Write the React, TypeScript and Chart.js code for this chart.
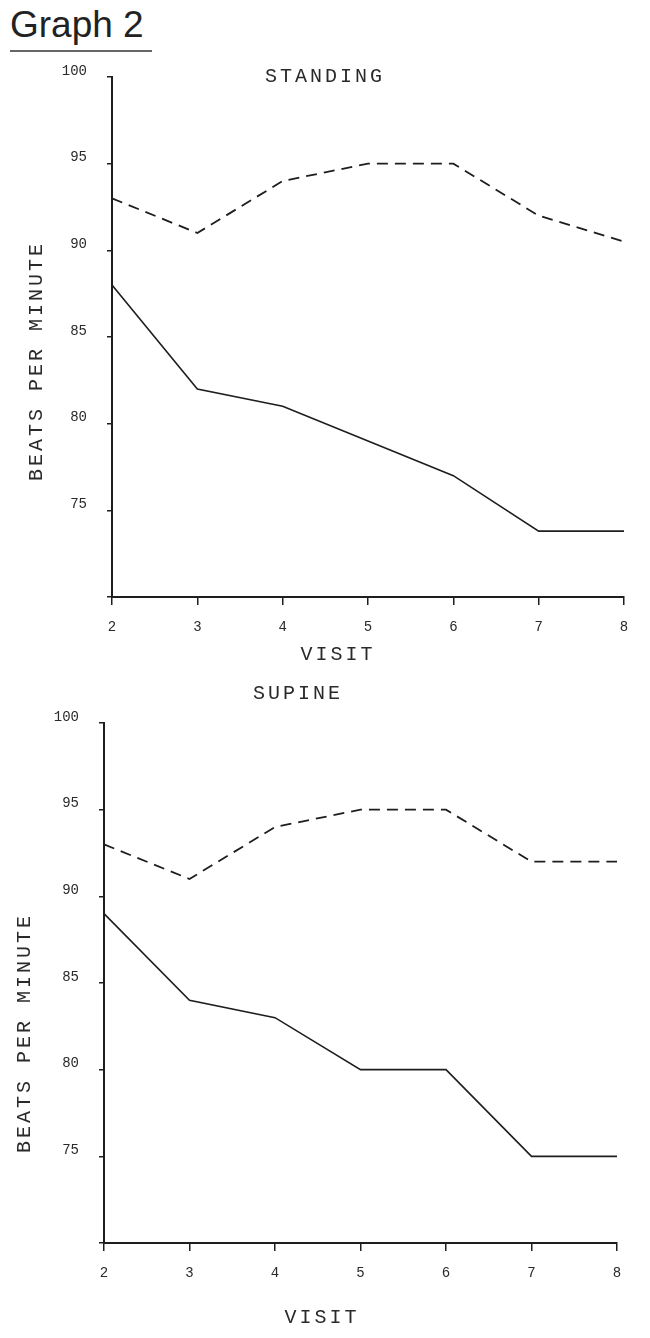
import React, { useEffect, useRef } from 'react';
import { Chart, registerables } from 'chart.js';
import type { ChartConfiguration, Plugin } from 'chart.js';

Chart.register(...registerables);

// values
const visits = ['2', '3', '4', '5', '6', '7', '8'];
const yTickValues = [70, 75, 80, 85, 90, 95, 100];
const standingDashed = [93, 91, 94, 95, 95, 92, 90.5];
const standingSolid = [88, 82, 81, 79, 77, 73.8, 73.8];
const supineDashed = [93, 91, 94, 95, 95, 92, 92];
const supineSolid = [89, 84, 83, 80, 80, 75, 75];

const INK = '#1e1e1e';
const TEXT = '#2a2a2a';
const MONO = '"Liberation Mono", "DejaVu Sans Mono", monospace';

type Caption = { text: string; x: number; y: number; rotate?: boolean };

// typewriter captions (title and axis titles) with letter spacing
const captionPlugin: Plugin<'line'> = {
  id: 'captions',
  afterDraw(chart, _args, opts: any) {
    const ctx = chart.ctx as CanvasRenderingContext2D & { letterSpacing?: string };
    ctx.save();
    ctx.fillStyle = TEXT;
    ctx.font = `20px ${MONO}`;
    ctx.letterSpacing = '3px';
    ctx.textAlign = 'center';
    ctx.textBaseline = 'middle';
    (opts.items as Caption[]).forEach((c) => {
      ctx.save();
      ctx.translate(c.x, c.y);
      if (c.rotate) ctx.rotate(-Math.PI / 2);
      ctx.fillText(c.text, 0, 0);
      ctx.restore();
    });
    ctx.restore();
  },
};

type Area = { left: number; right: number; top: number; bottom: number };

type PanelProps = {
  top: number;
  height: number;
  dashed: number[];
  solid: number[];
  area: Area;
  captions: Caption[];
};

const Panel: React.FC<PanelProps> = ({ top, height, dashed, solid, area, captions }) => {
  const canvasRef = useRef<HTMLCanvasElement | null>(null);

  useEffect(() => {
    const canvas = canvasRef.current;
    if (!canvas) return;

    const config: ChartConfiguration<'line', number[], string> = {
      type: 'line',
      data: {
        labels: visits,
        datasets: [
          {
            data: dashed,
            borderColor: INK,
            borderWidth: 1.8,
            borderDash: [11, 7],
            pointRadius: 0,
            tension: 0,
          },
          {
            data: solid,
            borderColor: INK,
            borderWidth: 1.6,
            pointRadius: 0,
            tension: 0,
          },
        ],
      },
      options: {
        responsive: false,
        animation: false,
        layout: { padding: { left: 0, top: area.top, right: 650 - area.right, bottom: 0 } },
        plugins: {
          legend: { display: false },
          tooltip: { enabled: false },
          captions: { items: captions },
        } as any,
        scales: {
          x: {
            type: 'category',
            offset: false,
            grid: { drawOnChartArea: false, drawTicks: true, tickLength: 8, color: INK, lineWidth: 1.5 },
            border: { display: true, color: INK, width: 2 },
            ticks: {
              color: TEXT,
              font: { family: MONO, size: 14 },
              padding: 14,
              maxRotation: 0,
              autoSkip: false,
            },
            afterFit: (s) => {
              s.height = height - area.bottom;
            },
          },
          y: {
            type: 'linear',
            min: 70,
            max: 100,
            afterBuildTicks: (s) => {
              s.ticks = yTickValues.map((v) => ({ value: v }));
            },
            grid: { drawOnChartArea: false, drawTicks: true, tickLength: 5, color: INK, lineWidth: 1.5 },
            border: { display: true, color: INK, width: 2 },
            ticks: {
              color: TEXT,
              font: { family: MONO, size: 14 },
              padding: 20,
              labelOffset: -6,
              callback: (v) => (Number(v) === 70 ? '' : String(v)),
            },
            afterFit: (s) => {
              s.width = area.left;
            },
          },
        },
      },
      plugins: [captionPlugin],
    };

    const chart = new Chart(canvas, config);
    return () => chart.destroy();
  }, [height, dashed, solid, area, captions]);

  return (
    <div style={{ position: 'absolute', left: 0, top, width: 650, height }}>
      <canvas ref={canvasRef} width={650} height={height} style={{ width: 650, height }} />
    </div>
  );
};

const standingArea: Area = { left: 112, right: 624, top: 77, bottom: 597 };
const standingCaptions: Caption[] = [
  { text: 'STANDING', x: 325, y: 77 },
  { text: 'VISIT', x: 338, y: 655 },
  { text: 'BEATS PER MINUTE', x: 37, y: 361, rotate: true },
];

const supineArea: Area = { left: 104, right: 617, top: 43, bottom: 563 };
const supineCaptions: Caption[] = [
  { text: 'SUPINE', x: 298, y: 14 },
  { text: 'VISIT', x: 322, y: 638 },
  { text: 'BEATS PER MINUTE', x: 25, y: 353, rotate: true },
];

export default function App() {
  return (
    <div style={{ position: 'absolute', left: 0, top: 0, width: 650, height: 1338, background: '#fff' }}>
      <div
        style={{
          position: 'absolute',
          left: 10,
          top: 4,
          fontFamily: '"Liberation Sans", Arial, sans-serif',
          fontSize: 37,
          lineHeight: '42px',
          color: '#222',
          paddingBottom: 4,
          borderBottom: '2px solid #666',
          width: 142,
        }}
      >
        Graph 2
      </div>
      <Panel top={0} height={680} dashed={standingDashed} solid={standingSolid} area={standingArea} captions={standingCaptions} />
      <Panel top={680} height={658} dashed={supineDashed} solid={supineSolid} area={supineArea} captions={supineCaptions} />
    </div>
  );
}
